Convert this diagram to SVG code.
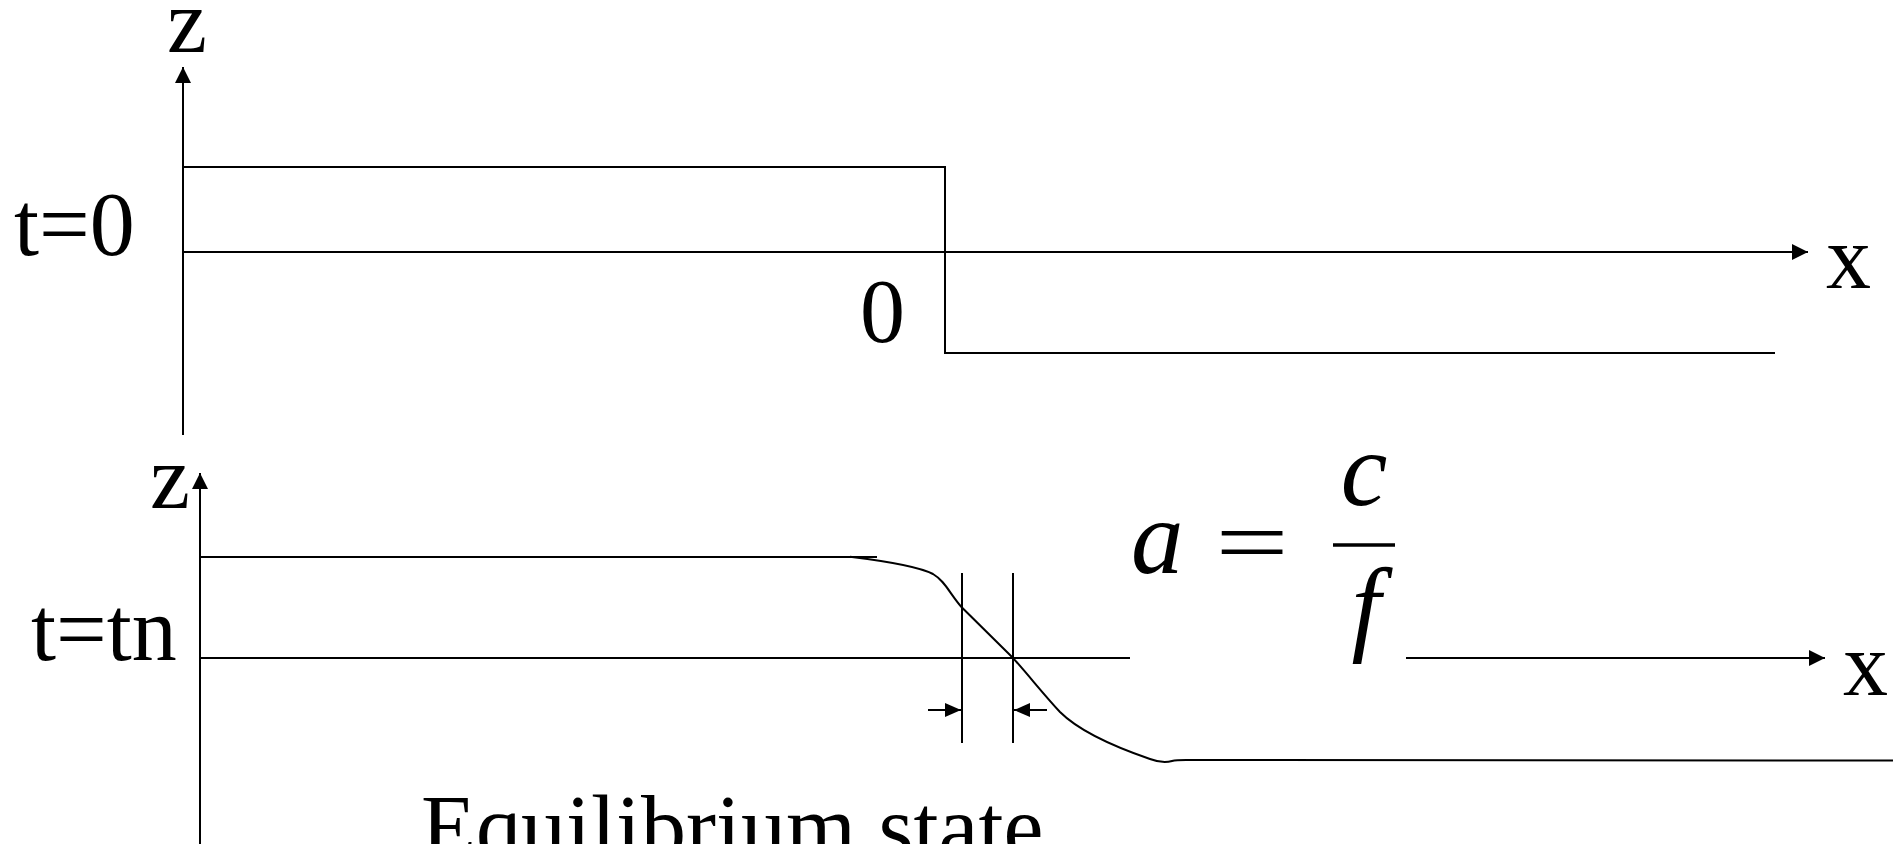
<svg xmlns="http://www.w3.org/2000/svg" width="1902" height="844" viewBox="0 0 1902 844">
  <style>
    .ln { stroke: #000; stroke-width: 2; fill: none; }
    .t { font-family: "Liberation Serif", "Times New Roman", serif; font-size: 90px; fill: #000; }
    .m { font-family: "Liberation Serif", "Times New Roman", serif; font-style: italic; font-size: 105px; fill: #000; }
  </style>
  <defs>
    <marker id="arr" markerUnits="userSpaceOnUse" markerWidth="16" markerHeight="16" refX="16" refY="8" orient="auto">
      <path d="M0,0 L16,8 L0,16 Z" fill="#000"/>
    </marker>
    <marker id="arrS" markerUnits="userSpaceOnUse" markerWidth="16" markerHeight="16" refX="16" refY="8" orient="auto">
      <path d="M0,1 L16,8 L0,15 Z" fill="#000"/>
    </marker>
  </defs>
  <rect x="0" y="0" width="1902" height="844" fill="#fff"/>

  <g id="top-plot">
    <g id="top-axes">
      <line class="ln" x1="183" y1="435" x2="183" y2="67" marker-end="url(#arr)"/>
      <line class="ln" x1="183" y1="252" x2="1808" y2="252" marker-end="url(#arr)"/>
    </g>
    <g id="top-profile">
      <polyline class="ln" points="183,167 945,167 945,353 1775,353"/>
    </g>
    <g id="top-labels">
      <text class="t" x="167" y="52">z</text>
      <text class="t" x="14" y="255">t=0</text>
      <text class="t" x="860" y="342">0</text>
      <text class="t" x="1826" y="288">x</text>
    </g>
  </g>

  <g id="bottom-plot">
    <g id="bottom-axes">
      <line class="ln" x1="200" y1="850" x2="200" y2="473" marker-end="url(#arr)"/>
      <line class="ln" x1="200" y1="658" x2="1130" y2="658"/>
      <line class="ln" x1="1406" y1="658" x2="1825" y2="658" marker-end="url(#arr)"/>
    </g>
    <g id="bottom-profile">
      <line class="ln" x1="200" y1="557" x2="877" y2="557"/>
      <path class="ln" d="M850,556.7 C885,561 918,566 933,574 C945,581 950,594 961.7,607.3 L1013.3,658.3 C1030,677 1045,696 1060,712 C1080,732 1118,748 1150,759 C1158,762 1165,763 1172,761 C1176,760 1180,760 1186,760 L1893,760.5"/>
    </g>
    <g id="width-marker">
      <line class="ln" x1="962" y1="573" x2="962" y2="743"/>
      <line class="ln" x1="1013" y1="573" x2="1013" y2="743"/>
      <line class="ln" x1="928" y1="710" x2="961" y2="710" marker-end="url(#arrS)"/>
      <line class="ln" x1="1047" y1="710" x2="1014" y2="710" marker-end="url(#arrS)"/>
    </g>
    <g id="bottom-labels">
      <text class="t" x="150" y="508">z</text>
      <text class="t" x="31" y="660">t=tn</text>
      <text class="t" x="1843" y="695">x</text>
      <text class="t" x="421" y="858" font-size="88">Equilibrium state</text>
    </g>
    <g id="formula">
      <text class="m" x="1131" y="573">a</text>
      <text class="t" x="0" y="0" font-size="100" text-anchor="middle" transform="translate(1252,573) scale(1.45,1)">=</text>
      <text class="m" x="1364" y="505" text-anchor="middle">c</text>
      <line x1="1333" y1="545" x2="1395" y2="545" stroke="#000" stroke-width="3.5"/>
      <text class="m" x="1366" y="641" text-anchor="middle">f</text>
    </g>
  </g>
</svg>
